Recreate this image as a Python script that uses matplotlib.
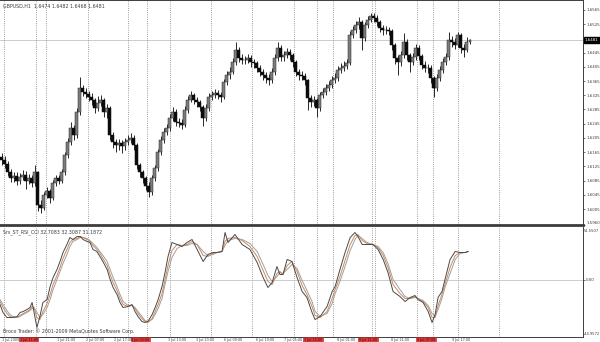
import numpy as np
import matplotlib
matplotlib.use('Agg')
import matplotlib.pyplot as plt

W, H = 600, 342

# GBPUSD,H1 candles (open = previous close)
first_open = 1.6150
close = [1.6142, 1.6133, 1.6108, 1.6091, 1.6097, 1.6085, 1.6094, 1.6100, 1.6085, 1.6091,
         1.6077, 1.6108, 1.6015, 1.6009, 1.6043, 1.6057, 1.6035, 1.6077, 1.6091, 1.6085,
         1.6108, 1.6156, 1.6193, 1.6232, 1.6212, 1.6277, 1.6345, 1.6334, 1.6328, 1.6320,
         1.6311, 1.6288, 1.6303, 1.6311, 1.6277, 1.6288, 1.6212, 1.6193, 1.6184, 1.6190,
         1.6181, 1.6193, 1.6198, 1.6204, 1.6184, 1.6128, 1.6108, 1.6091, 1.6071, 1.6052,
         1.6091, 1.6119, 1.6164, 1.6198, 1.6221, 1.6232, 1.6260, 1.6277, 1.6249, 1.6246,
         1.6241, 1.6283, 1.6311, 1.6325, 1.6311, 1.6305, 1.6291, 1.6260, 1.6288, 1.6320,
         1.6325, 1.6331, 1.6325, 1.6320, 1.6362, 1.6381, 1.6390, 1.6418, 1.6452, 1.6429,
         1.6424, 1.6424, 1.6429, 1.6418, 1.6415, 1.6401, 1.6390, 1.6381, 1.6373, 1.6367,
         1.6390, 1.6429, 1.6458, 1.6432, 1.6438, 1.6446, 1.6438, 1.6418, 1.6390, 1.6381,
         1.6379, 1.6367, 1.6317, 1.6305, 1.6311, 1.6288, 1.6325, 1.6334, 1.6345, 1.6353,
         1.6367, 1.6373, 1.6396, 1.6401, 1.6407, 1.6415, 1.6494, 1.6508, 1.6522, 1.6531,
         1.6486, 1.6522, 1.6536, 1.6548, 1.6542, 1.6531, 1.6514, 1.6508, 1.6508, 1.6506,
         1.6466, 1.6429, 1.6418, 1.6438, 1.6475, 1.6438, 1.6418, 1.6432, 1.6458, 1.6435,
         1.6410, 1.6401, 1.6401, 1.6373, 1.6345, 1.6373, 1.6396, 1.6418, 1.6432, 1.6480,
         1.6475, 1.6466, 1.6494, 1.6458, 1.6452, 1.6474, 1.6481]
high = [1.6162, 1.6155, 1.6140, 1.6118, 1.6110, 1.6108, 1.6106, 1.6115, 1.6112, 1.6104,
        1.6100, 1.6130, 1.6112, 1.6030, 1.6052, 1.6068, 1.6062, 1.6088, 1.6102, 1.6100,
        1.6118, 1.6166, 1.6205, 1.6250, 1.6240, 1.6290, 1.6376, 1.6355, 1.6345, 1.6338,
        1.6330, 1.6318, 1.6322, 1.6325, 1.6318, 1.6300, 1.6295, 1.6222, 1.6202, 1.6203,
        1.6200, 1.6205, 1.6212, 1.6218, 1.6212, 1.6190, 1.6135, 1.6115, 1.6098, 1.6080,
        1.6100, 1.6130, 1.6175, 1.6210, 1.6232, 1.6245, 1.6272, 1.6292, 1.6285, 1.6262,
        1.6258, 1.6295, 1.6322, 1.6338, 1.6332, 1.6320, 1.6312, 1.6298, 1.6300, 1.6330,
        1.6338, 1.6342, 1.6340, 1.6335, 1.6372, 1.6392, 1.6405, 1.6430, 1.6475, 1.6460,
        1.6440, 1.6436, 1.6440, 1.6438, 1.6428, 1.6422, 1.6410, 1.6398, 1.6390, 1.6385,
        1.6402, 1.6440, 1.6475, 1.6465, 1.6450, 1.6458, 1.6455, 1.6445, 1.6425, 1.6398,
        1.6392, 1.6388, 1.6372, 1.6325, 1.6322, 1.6318, 1.6335, 1.6345, 1.6358, 1.6365,
        1.6380, 1.6388, 1.6408, 1.6415, 1.6420, 1.6428, 1.6505, 1.6520, 1.6535, 1.6545,
        1.6538, 1.6532, 1.6548, 1.6557, 1.6556, 1.6550, 1.6538, 1.6522, 1.6520, 1.6518,
        1.6512, 1.6472, 1.6438, 1.6450, 1.6500, 1.6482, 1.6445, 1.6445, 1.6470, 1.6465,
        1.6442, 1.6420, 1.6412, 1.6410, 1.6380, 1.6385, 1.6408, 1.6430, 1.6445, 1.6502,
        1.6492, 1.6485, 1.6503, 1.6500, 1.6468, 1.6490, 1.6482]
low = [1.6130, 1.6121, 1.6098, 1.6080, 1.6082, 1.6072, 1.6075, 1.6086, 1.6062, 1.6074,
       1.6066, 1.6070, 1.6000, 1.5993, 1.6001, 1.6036, 1.6022, 1.6030, 1.6070, 1.6074,
       1.6078, 1.6100, 1.6148, 1.6185, 1.6200, 1.6205, 1.6270, 1.6322, 1.6318, 1.6308,
       1.6298, 1.6276, 1.6280, 1.6295, 1.6265, 1.6262, 1.6200, 1.6178, 1.6165, 1.6172,
       1.6162, 1.6172, 1.6185, 1.6190, 1.6172, 1.6118, 1.6095, 1.6078, 1.6058, 1.6040,
       1.6045, 1.6085, 1.6112, 1.6158, 1.6190, 1.6212, 1.6225, 1.6252, 1.6238, 1.6235,
       1.6230, 1.6236, 1.6275, 1.6305, 1.6300, 1.6292, 1.6280, 1.6238, 1.6252, 1.6282,
       1.6312, 1.6318, 1.6315, 1.6305, 1.6315, 1.6355, 1.6372, 1.6385, 1.6410, 1.6418,
       1.6412, 1.6412, 1.6415, 1.6405, 1.6402, 1.6390, 1.6378, 1.6368, 1.6360, 1.6354,
       1.6360, 1.6382, 1.6420, 1.6420, 1.6422, 1.6430, 1.6425, 1.6405, 1.6378, 1.6368,
       1.6368, 1.6355, 1.6283, 1.6292, 1.6295, 1.6263, 1.6280, 1.6318, 1.6325, 1.6338,
       1.6345, 1.6360, 1.6365, 1.6388, 1.6392, 1.6398, 1.6410, 1.6485, 1.6500, 1.6512,
       1.6452, 1.6478, 1.6515, 1.6530, 1.6530, 1.6520, 1.6502, 1.6495, 1.6496, 1.6494,
       1.6452, 1.6412, 1.6382, 1.6408, 1.6430, 1.6425, 1.6390, 1.6410, 1.6425, 1.6425,
       1.6398, 1.6390, 1.6388, 1.6360, 1.6320, 1.6338, 1.6365, 1.6388, 1.6410, 1.6425,
       1.6462, 1.6455, 1.6460, 1.6445, 1.6432, 1.6446, 1.6468]
opn = [first_open] + close[:-1]

price_ticks = [1.6565, 1.6525, 1.6445, 1.6405, 1.6365, 1.6325, 1.6285, 1.6245,
               1.6205, 1.6165, 1.6125, 1.6085, 1.6045, 1.6005]
price_min, price_max = 1.5960, 1.6593

# indicator window (three lines), x in bars
ind_x = [-0.5, 0.5, 1.8, 2.8, 3.8, 5.2, 6.2, 7.2, 8.5, 9.5,
         10.2, 10.8, 11.8, 12.8, 13.8, 15.2, 16.2, 17.2, 18.5, 19.5,
         20.5, 21.8, 22.8, 23.8, 25.2, 26.2, 27.2, 28.5, 29.5, 30.5,
         31.8, 32.8, 33.8, 35.2, 36.2, 37.2, 38.5, 39.5, 40.5, 42.2,
         43.5, 44.5, 45.5, 46.8, 47.8, 48.8, 50.2, 51.2, 52.2, 53.5,
         54.5, 55.5, 56.8, 58.5, 60.2, 61.8, 63.5, 65.2, 67.2, 68.8,
         70.5, 71.8, 73.5, 74.5, 75.5, 77.8, 80.2, 82.8, 85.2, 87.2,
         88.8, 90.2, 91.8, 92.8, 93.8, 95.2, 96.8, 98.5, 100.2, 101.8,
         103.5, 104.5, 106.2, 108.5, 110.2, 111.2, 112.8, 114.5, 116.2, 117.8,
         118.8, 120.2, 121.8, 123.8, 125.5, 127.2, 128.8, 130.5, 132.8, 134.5,
         136.2, 137.8, 138.8, 140.5, 142.2, 143.5, 144.5, 145.5, 146.8, 147.8,
         149.5, 151.2, 152.8, 154.5, 155.5]
ind_main = [-25, -33, -38, -38, -38, -37, -33, -32, -30, -28,
            -23, -32, -48, -37, -23, -20, -7, 2, 10, 18,
            27, 35, 42, 40, 43, 43, 40, 38, 37, 30,
            28, 23, 18, 10, 0, -8, -15, -23, -28, -27,
            -25, -32, -37, -42, -43, -42, -35, -28, -20, -7,
            7, 23, 37, 35, 33, 37, 40, 30, 18, 25,
            27, 27, 28, 47, 37, 45, 35, 30, 17, 2,
            -8, -3, 13, 5, 5, 20, 18, 2, -12, -18,
            -33, -40, -37, -27, -12, -7, 10, 27, 42, 47,
            43, 35, 35, 35, 30, 20, 7, -12, -17, -22,
            -18, -16, -20, -23, -32, -43, -35, -18, -12, 0,
            20, 28, 27, 27, 28]
ind_sig = [-22, -28, -34, -37, -38, -38, -36, -34, -32, -30,
           -27, -28, -38, -40, -32, -24, -15, -5, 4, 12,
           21, 30, 37, 40, 41, 43, 42, 40, 38, 34,
           30, 26, 21, 14, 5, -3, -11, -19, -25, -27,
           -26, -29, -34, -39, -42, -43, -39, -32, -25, -14,
           0, 14, 29, 35, 34, 35, 38, 35, 24, 23,
           26, 27, 28, 38, 41, 42, 39, 33, 23, 9,
           -2, -5, 6, 8, 5, 14, 18, 8, -6, -15,
           -27, -36, -38, -32, -19, -10, 3, 19, 35, 44,
           45, 39, 36, 35, 32, 24, 12, -5, -14, -19,
           -19, -17, -19, -22, -28, -38, -38, -26, -15, -5,
           12, 24, 27, 27, 28]
ind_slow = [-20, -25, -31, -35, -37, -38, -37, -35, -33, -31,
            -29, -28, -33, -38, -35, -28, -20, -10, 0, 8,
            16, 25, 33, 38, 40, 42, 42, 41, 39, 36,
            32, 28, 24, 18, 10, 2, -7, -15, -22, -26,
            -26, -28, -32, -37, -41, -42, -40, -35, -29, -19,
            -5, 8, 22, 31, 34, 34, 36, 35, 28, 24,
            25, 27, 28, 34, 39, 41, 40, 36, 28, 15,
            4, -2, 3, 7, 6, 10, 15, 11, -1, -11,
            -22, -32, -37, -34, -24, -14, -2, 13, 29, 40,
            44, 41, 37, 35, 33, 27, 16, 0, -10, -17,
            -19, -18, -19, -21, -26, -34, -37, -30, -19, -8,
            6, 20, 26, 27, 28]

# period separators (bar positions)
sep_bars = [0.8, 11.5, 14.8, 28.8, 42.2, 48.5, 56.2, 69.8, 83.5, 97.5,
            105.2, 110.5, 123.5, 124.5, 138.5, 143.8, 152.2, 165.8]

# time scale labels, the ones with red background flagged
date_pos = [0.3, 6.0, 18.5, 28.2, 37.5, 43.3, 55.5, 64.8, 74.2, 84.8,
            94.0, 100.8, 111.8, 119.0, 129.8, 138.4, 150.2]
date_txt = ['1 Jul 2009', '1 Jul 11:00', '1 Jul 21:00', '2 Jul 07:00', '2 Jul 17:00',
            '3 Jul 03:00', '3 Jul 13:00', '3 Jul 23:00', '6 Jul 09:00', '6 Jul 19:00',
            '7 Jul 05:00', '7 Jul 15:00', '8 Jul 01:00', '8 Jul 11:00', '8 Jul 21:00',
            '9 Jul 07:00', '9 Jul 17:00']
date_red = [False, True, False, False, False, True, False, False, False, False,
            False, True, False, True, False, True, False]

header = 'GBPUSD,H1  1.6474 1.6482 1.6468 1.6481'
ind_label = 'Srs_ST_RSI_CCI 32.7083 32.3087 31.1872'
corner = 'Broco Trader: \u00a9 2001-2009 MetaQuotes Software Corp.'

fs = 3.4      # in-chart labels
fs_ax = 2.9   # price scale
fs_t = 2.4    # time scale
dark = '#3c3c3c'
sep_col = '#808080'

fig = plt.figure(figsize=(W / 100, H / 100), dpi=100)
fig.patch.set_facecolor('white')
ax = fig.add_axes([0, 117 / H, 583 / W, 225 / H])
ax2 = fig.add_axes([0, 5 / H, 583 / W, 110 / H], sharex=ax)

x = np.arange(len(close))
o = np.array(opn)
c = np.array(close)
up = c >= o

# candles
ax.vlines(x, low, high, color='#282828', lw=0.7, zorder=3)
body = np.where(np.abs(c - o) < 0.00015, 0.00015, c - o)
ax.bar(x[up], body[up], bottom=o[up], width=0.72, color='#7c7c7c',
       edgecolor='#282828', lw=0.35, zorder=4)
ax.bar(x[~up], body[~up], bottom=o[~up], width=0.72, color='#0c0c0c',
       edgecolor='#0c0c0c', lw=0.35, zorder=4)

ax.set_xlim(-0.5, 193.8)
ax.set_ylim(price_min, price_max)
ax.axhline(close[-1], color='#c4c4c4', lw=0.6, zorder=1)

for xb in sep_bars:
    ax.axvline(xb, color=sep_col, lw=0.6, ls=(0, (1, 1.6)), zorder=1)
    ax2.axvline(xb, color=sep_col, lw=0.6, ls=(0, (1, 1.6)), zorder=1)

ax.yaxis.tick_right()
ax.set_yticks(price_ticks + [price_min])
ax.set_yticklabels(['%.4f' % v for v in price_ticks] + ['%.4f' % price_min])
ax.tick_params(axis='y', direction='out', length=1.5, width=0.5, pad=0.8,
               labelsize=fs_ax, colors=dark)
ax.get_yticklabels()[-1].set_va('bottom')
ax.tick_params(axis='x', bottom=False, labelbottom=False)
ax.text(1.003, close[-1], '%.4f' % close[-1], transform=ax.get_yaxis_transform(),
        color='white', fontsize=fs_ax, va='center', ha='left', zorder=6,
        bbox=dict(boxstyle='square,pad=0.25', fc='black', ec='black'))
ax.text(0.006, 0.985, header, transform=ax.transAxes, fontsize=fs,
        color=dark, va='top', ha='left')

for sp in ax.spines.values():
    sp.set_color(dark)
    sp.set_linewidth(0.7)
ax.spines['bottom'].set_linewidth(2.0)
ax.spines['left'].set_visible(False)

# indicator
ax2.plot(ind_x, ind_slow, color='#a0a0a0', lw=0.7, zorder=3)
ax2.plot(ind_x, ind_sig, color='#c98a60', lw=0.7, zorder=4)
ax2.plot(ind_x, ind_main, color='#4a4a4a', lw=0.7, zorder=5)
ax2.set_ylim(-57.5, 52.5)
ax2.axhline(0, color='#c4c4c4', lw=0.6, zorder=1)
ax2.yaxis.tick_right()
ax2.set_yticks([0])
ax2.set_yticklabels(['0.00'])
ax2.tick_params(axis='y', direction='out', length=1.5, width=0.5, pad=0.8,
                labelsize=fs_ax, colors=dark)
ax2.tick_params(axis='x', bottom=False, labelbottom=False)
ax2.text(1.002, 0.985, '51.5507', transform=ax2.transAxes, fontsize=2.6,
         color=dark, va='top', ha='left')
ax2.text(1.002, 0.012, '-44.9572', transform=ax2.transAxes, fontsize=2.6,
         color=dark, va='bottom', ha='left')
ax2.text(0.006, 0.975, ind_label, transform=ax2.transAxes, fontsize=fs,
         color=dark, va='top', ha='left')
ax2.text(0.006, 0.03, corner, transform=ax2.transAxes, fontsize=fs,
         color=dark, va='bottom', ha='left')
for sp in ax2.spines.values():
    sp.set_color(dark)
    sp.set_linewidth(0.7)
ax2.spines['left'].set_visible(False)
ax2.spines['top'].set_visible(False)

# time scale along the bottom edge
for xp, t, red in zip(date_pos, date_txt, date_red):
    kw = dict(fontsize=fs_t, va='top', ha='left', clip_on=False,
              transform=ax2.get_xaxis_transform())
    if red:
        ax2.text(xp, -0.01, t, color='#500000',
                 bbox=dict(boxstyle='square,pad=0.25', fc='#d84040', ec='#b02020', lw=0.4),
                 **kw)
    else:
        ax2.text(xp, -0.01, t, color=dark, **kw)

fig.savefig('out.png', dpi=100, facecolor='white')
